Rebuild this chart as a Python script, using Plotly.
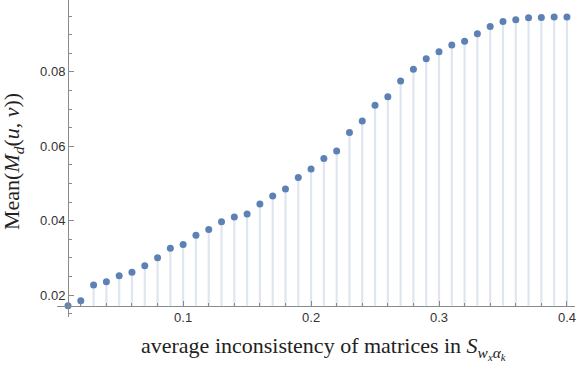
import plotly.graph_objects as go

# inconsistency levels (x) and mean distances (y)
inconsistency = [round(0.01 * i, 2) for i in range(1, 41)]
mean_md = [
    0.0171, 0.0185, 0.0227, 0.0236, 0.0252, 0.0261, 0.0279, 0.0300, 0.0326, 0.0336,
    0.0361, 0.0376, 0.0397, 0.0410, 0.0418, 0.0445, 0.0466, 0.0485, 0.0516, 0.0539,
    0.0567, 0.0587, 0.0637, 0.0668, 0.0710, 0.0733, 0.0775, 0.0807, 0.0835, 0.0854,
    0.0872, 0.0882, 0.0902, 0.0922, 0.0935, 0.0940, 0.0945, 0.0946, 0.0947, 0.0947,
]
x_ticks = [0.1, 0.2, 0.3, 0.4]
y_ticks = [0.02, 0.04, 0.06, 0.08]

x_range = [0.0014, 0.4063]
y_range = [0.0141, 0.0993]

# axes cross at the first data point (Mathematica style)
origin_x = inconsistency[0]
origin_y = mean_md[0]

point_color = "#5E81B5"
fill_color = "#DFE6F0"
axis_color = "#8a8a8a"

fig = go.Figure()

# filling to the axis
fig.add_trace(go.Bar(
    x=inconsistency,
    y=[v - origin_y for v in mean_md],
    base=origin_y,
    width=0.0017,
    marker=dict(color=fill_color, line=dict(width=0)),
    hoverinfo="skip",
))

fig.add_trace(go.Scatter(
    x=inconsistency,
    y=mean_md,
    mode="markers",
    marker=dict(color=point_color, size=7),
))

fig.update_layout(
    width=581,
    height=367,
    margin=dict(l=57, r=6, t=0, b=50, autoexpand=False),
    plot_bgcolor="white",
    paper_bgcolor="white",
    showlegend=False,
    font=dict(family="Liberation Sans, Arial, sans-serif", size=13, color="#333333"),
)

fig.update_xaxes(
    range=x_range,
    anchor="free",
    position=(origin_y - y_range[0]) / (y_range[1] - y_range[0]),
    automargin=False,
    tickvals=x_ticks,
    tickformat=".1f",
    ticks="inside",
    ticklen=5,
    tickcolor=axis_color,
    showline=True,
    linecolor=axis_color,
    linewidth=1,
    showgrid=False,
    zeroline=False,
    minor=dict(dtick=0.02, tick0=0, ticks="inside", ticklen=3, tickcolor=axis_color),
)

fig.update_yaxes(
    range=y_range,
    anchor="free",
    position=(origin_x - x_range[0]) / (x_range[1] - x_range[0]),
    automargin=False,
    tickvals=y_ticks,
    tickformat=".2f",
    ticks="inside",
    ticklen=5,
    tickcolor=axis_color,
    showline=True,
    linecolor=axis_color,
    linewidth=1,
    showgrid=False,
    zeroline=False,
    minor=dict(dtick=0.005, tick0=0, ticks="inside", ticklen=3, tickcolor=axis_color),
)

serif = dict(family="Liberation Serif, Times New Roman, serif", size=22, color="#222222")

fig.add_annotation(
    text="average inconsistency of matrices in <i>S</i><sub><i>w</i><sub><i>x</i></sub><i>α</i><sub><i>k</i></sub></sub>",
    xref="paper", yref="paper", x=0.514, y=-0.098,
    xanchor="center", yanchor="middle", showarrow=False, font=serif,
)
fig.add_annotation(
    text="Mean(<i>M</i><sub><i>d</i></sub>(<i>u</i>, <i>v</i>))",
    xref="paper", yref="paper", x=-0.085, y=0.492,
    xanchor="center", yanchor="middle", textangle=-90, showarrow=False, font=serif,
)

# browser default body margin would shift the figure
fig.write_html(
    "out.html",
    config={"displayModeBar": False},
    post_script="document.body.style.margin='0';",
)
